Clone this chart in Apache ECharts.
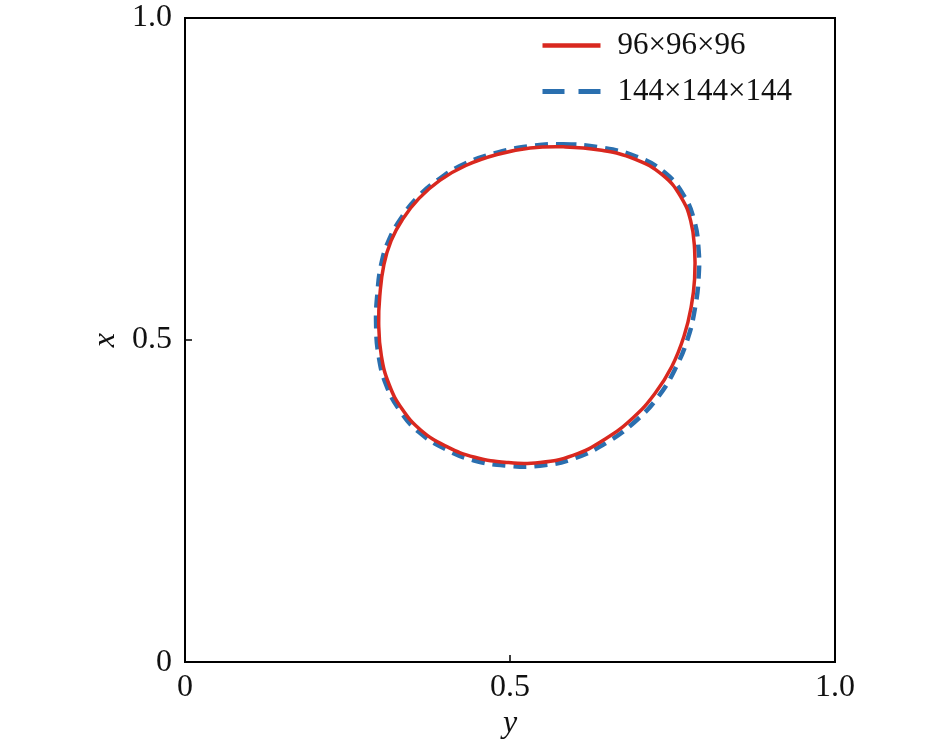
<!DOCTYPE html>
<html>
<head>
<meta charset="utf-8">
<script src="https://cdn.jsdelivr.net/npm/echarts@6/dist/echarts.min.js"></script>
<style>
  html, body { margin: 0; padding: 0; background: #fff; }
  #main { width: 945px; height: 745px; }
</style>
</head>
<body>
<div id="main"></div>
<script>
// interface outline, [y, x] pairs (horizontal axis is y), closed loop
var coarse = [
  [0.582, 0.800], [0.638, 0.795], [0.692, 0.781], [0.735, 0.756], [0.763, 0.722],
  [0.778, 0.685], [0.784, 0.641], [0.784, 0.595], [0.779, 0.553], [0.768, 0.507],
  [0.749, 0.459], [0.723, 0.417], [0.689, 0.379], [0.646, 0.346], [0.597, 0.321],
  [0.546, 0.310], [0.495, 0.310], [0.446, 0.318], [0.402, 0.335], [0.363, 0.360],
  [0.334, 0.393], [0.314, 0.431], [0.302, 0.476], [0.298, 0.526], [0.300, 0.572],
  [0.306, 0.617], [0.317, 0.654], [0.335, 0.688], [0.360, 0.720], [0.392, 0.748],
  [0.432, 0.771], [0.480, 0.788], [0.531, 0.798]
];
var fine = [
  [0.582, 0.804], [0.639, 0.799], [0.694, 0.785], [0.738, 0.760], [0.767, 0.725],
  [0.783, 0.687], [0.790, 0.642], [0.790, 0.595], [0.785, 0.552], [0.774, 0.504],
  [0.754, 0.455], [0.728, 0.412], [0.693, 0.374], [0.649, 0.341], [0.598, 0.316],
  [0.546, 0.305], [0.495, 0.305], [0.445, 0.313], [0.400, 0.331], [0.360, 0.357],
  [0.331, 0.390], [0.310, 0.429], [0.298, 0.475], [0.294, 0.526], [0.296, 0.572],
  [0.302, 0.618], [0.314, 0.656], [0.333, 0.690], [0.358, 0.722], [0.391, 0.750],
  [0.431, 0.774], [0.480, 0.791], [0.531, 0.801]
];
var seriesNames = ['96\u00d796\u00d796', '144\u00d7144\u00d7144'];

var RED = '#d9281f';
var BLUE = '#2a6faf';
var font = "'Liberation Serif', 'Times New Roman', serif";
var chart = echarts.init(document.getElementById('main'));

function labelFmt(v) {
  if (v === 0) return '0';
  return v.toFixed(1);
}

// closed smooth loop through the data points
function loopRenderer(points, style) {
  return function (params, api) {
    if (params.dataIndex !== 0) return;
    var pts = points.map(function (p) { return api.coord(p); });
    return {
      type: 'polygon',
      shape: { points: pts, smooth: 0.45 },
      style: style
    };
  };
}

chart.setOption({
  backgroundColor: '#fff',
  animation: false,
  grid: {
    left: 185, right: 110, top: 18, bottom: 80,
    show: true, borderColor: '#000', borderWidth: 2
  },
  legend: {
    data: [
      { name: seriesNames[0], lineStyle: { width: 4.5 } },
      { name: seriesNames[1], lineStyle: { width: 5, type: [22, 14] } }
    ],
    orient: 'vertical',
    left: 540, top: 30, padding: 0,
    itemWidth: 58, itemHeight: 3, itemGap: 15,
    itemStyle: { opacity: 0 },
    textStyle: { fontFamily: font, fontSize: 31, color: '#111', lineHeight: 30, padding: [0, 0, 0, 12] }
  },
  xAxis: {
    type: 'value', min: 0, max: 1, interval: 0.5,
    name: 'y', nameLocation: 'middle', nameGap: 40,
    nameTextStyle: { fontFamily: font, fontStyle: 'italic', fontSize: 32, color: '#111' },
    axisLine: { lineStyle: { color: '#000', width: 2 } },
    axisTick: { inside: true, length: 7, lineStyle: { color: '#000', width: 1.5 } },
    axisLabel: { fontFamily: font, fontSize: 32, color: '#111', margin: 9, formatter: labelFmt },
    splitLine: { show: false }
  },
  yAxis: {
    type: 'value', min: 0, max: 1, interval: 0.5,
    name: 'x', nameLocation: 'middle', nameGap: 62,
    nameTextStyle: { fontFamily: font, fontStyle: 'italic', fontSize: 32, color: '#111' },
    axisLine: { lineStyle: { color: '#000', width: 2 } },
    axisTick: { inside: true, length: 7, lineStyle: { color: '#000', width: 1.5 } },
    axisLabel: { fontFamily: font, fontSize: 32, color: '#111', margin: 13, formatter: labelFmt },
    splitLine: { show: false }
  },
  series: [
    // legend entries (line style)
    {
      name: seriesNames[0], type: 'line', data: [], symbol: 'none',
      lineStyle: { color: RED, width: 3.5 }, itemStyle: { color: RED }
    },
    {
      name: seriesNames[1], type: 'line', data: [], symbol: 'none',
      lineStyle: { color: BLUE, width: 4.5, type: [13, 8] }, itemStyle: { color: BLUE }
    },
    // the outlines
    {
      name: seriesNames[1], type: 'custom', data: fine, z: 2,
      renderItem: loopRenderer(fine, { fill: 'none', stroke: BLUE, lineWidth: 4.5, lineDash: [13, 8] }),
      itemStyle: { color: BLUE }
    },
    {
      name: seriesNames[0], type: 'custom', data: coarse, z: 3,
      renderItem: loopRenderer(coarse, { fill: 'none', stroke: RED, lineWidth: 3.5 }),
      itemStyle: { color: RED }
    }
  ]
});
</script>
</body>
</html>
